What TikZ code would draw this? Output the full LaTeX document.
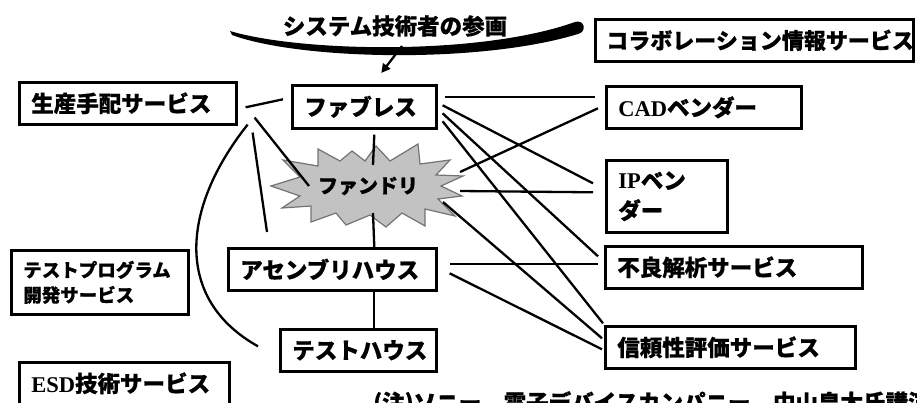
\documentclass[tikz,border=0pt]{standalone}
\usepackage{fontspec}
\newfontfamily\jp{Noto Sans CJK JP}[BoldFeatures={FakeBold=0.6}]
\newfontfamily\lat{Liberation Serif}
\usetikzlibrary{calc,arrows.meta}
\begin{document}
\begin{tikzpicture}[x=1pt,y=-1pt,
  box/.style={draw, line width=2.6pt, inner xsep=12pt, inner ysep=0pt, align=left,
    anchor=north west, font=\jp\bfseries\fontsize{22.5}{30}\selectfont},
  link/.style={line width=2.3pt},
  jtext/.style={font=\jp\bfseries\fontsize{22.5}{26}\selectfont, inner sep=0pt},
]
\useasboundingbox (0,0) rectangle (917,402);

% boxes
\node[box, text width=193pt, minimum height=42pt] (seisan) at (18,81) {生産手配サービス};
\node[box, text width=120pt, minimum height=43pt] (fab) at (291,84) {ファブレス};
\node[box, text width=296pt, minimum height=42pt, inner xsep=11pt, font=\jp\bfseries\fontsize{22}{30}\selectfont] (collab) at (594,18) {コラボレーション情報サービス};
\node[box, text width=171pt, minimum height=42pt] (cad) at (605,85) {{\lat\bfseries CAD}ベンダー};
\node[box, text width=97pt, minimum height=72pt] (ip) at (605,159) {{\lat\bfseries IP}ベン\\ダー};
\node[box, text width=233pt, minimum height=42pt] (furyo) at (604,245) {不良解析サービス};
\node[box, text width=226pt, minimum height=42pt] (shinrai) at (604,325) {信頼性評価サービス};
\node[box, text width=184pt, minimum height=42pt] (asm) at (227,247) {アセンブリハウス};
\node[box, text width=132pt, minimum height=42pt] (test) at (279,328) {テストハウス};
\node[box, text width=153pt, minimum height=64pt, font=\jp\bfseries\fontsize{18.5}{25}\selectfont] (tprog) at (10,249) {テストプログラム\\開発サービス};
\node[box, text width=186pt, minimum height=42pt] (esd) at (18,361) {{\lat\bfseries ESD}技術サービス};

% starburst
\filldraw[fill=black!24, draw=black!55, line width=1.2pt]
  (271,186) -- (300,177) -- (283,160) -- (318,166) -- (318,149) -- (340,161)
  -- (352,151) -- (365,161) -- (376,146) -- (390,161) -- (418,144) -- (420,164)
  -- (450,160) -- (436,175) -- (463,176) -- (441,186) -- (462,196) -- (438,199)
  -- (455,216) -- (425,209) -- (425,226) -- (402,213) -- (386,227) -- (370,215)
  -- (346,225) -- (336,213) -- (311,222) -- (311,206) -- (282,208) -- (300,196) -- cycle;
\node[jtext, font=\jp\bfseries\fontsize{20}{24}\selectfont] (fd) at (368,186) {ファンドリ};

% title brush stroke
\fill (230,31) .. controls (300,52) and (480,56) .. (575,22)
  .. controls (585,19) and (587,32) .. (578,34)
  .. controls (480,64) and (300,60) .. (232,35) -- cycle;
\node[jtext] (title) at (395,26) {システム技術者の参画};
\coordinate (arcpt) at (402,46);
\draw[line width=2.3pt, -{Triangle[length=9pt,width=9pt]}] (arcpt) -- ($(fab.north)+(17,-11)$);

% connectors
\draw[link] ($(seisan.east)+(8,4)$) -- ($(fab.west)+(-8,-7.5)$);
\draw[link] ($(seisan.south east)+(17,-8)$) -- ($(fd.center)+(-59,0)$);
\draw[link] ($(seisan.south east)+(15,7)$) -- ($(asm.north west)+(40,-15)$);
\draw[link] ($(seisan.south east)+(10,-1)$) .. controls (180,210) and (175,300) .. ($(test.west)+(-21,-4)$);
\draw[link] ($(fab.south)+(10,5)$) -- ($(fd.center)+(5,-21)$);
\draw[link] ($(fd.center)+(5,27)$) -- ($(asm.north)+(42,0)$);
\draw[link] ($(asm.south)+(42,0)$) -- ($(test.north)+(16,0)$);
\draw[link] ($(fab.east)+(7,-9.5)$) -- ($(cad.west)+(-10,-10)$);
\draw[link] ($(fab.east)+(5,-1.5)$) -- ($(ip.west)+(-12,-13)$);
\draw[link] ($(fab.east)+(5,6.5)$) -- ($(furyo.west)+(-6,-11)$);
\draw[link] ($(fab.east)+(5,14.5)$) -- ($(shinrai.west)+(-1,-24)$);
\draw[link] ($(fd.center)+(92,-14)$) -- ($(cad.west)+(-7,1)$);
\draw[link] ($(fd.center)+(92,5)$) -- ($(ip.west)+(-12,-4)$);
\draw[link] ($(fd.center)+(75,16)$) -- ($(shinrai.west)+(-2,-9)$);
\draw[link] ($(asm.east)+(12,-5)$) -- ($(furyo.west)+(-6,-3)$);
\draw[link] ($(asm.east)+(12,4)$) -- ($(shinrai.west)+(-2,2)$);

% footnote (cut by the page edge, as in the reference)
\node[jtext, anchor=north west] (note) at (373,391) {(注)ソニー　電子デバイスカンパニー　中山皇太氏講演資料より};
\end{tikzpicture}
\end{document}
